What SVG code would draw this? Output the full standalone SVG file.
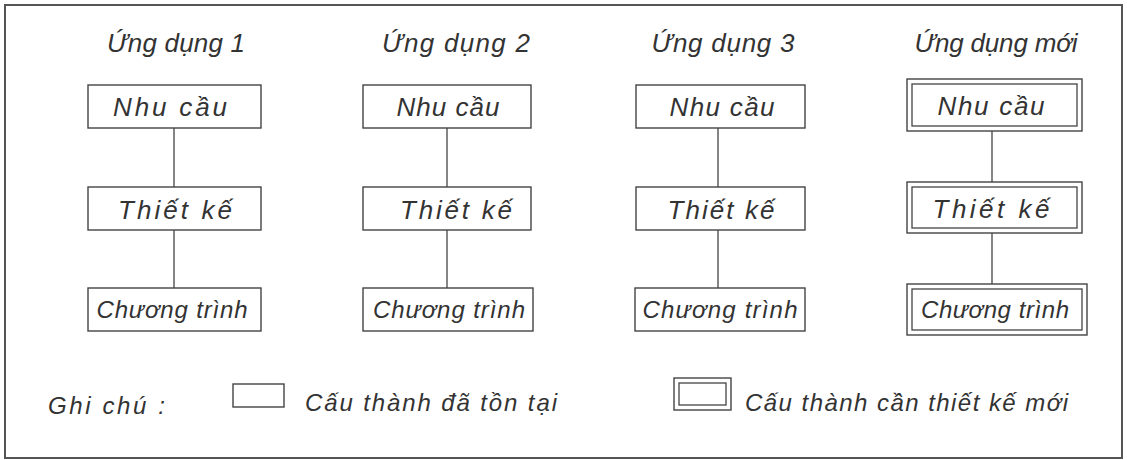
<svg xmlns="http://www.w3.org/2000/svg" width="1127" height="460" viewBox="0 0 1127 460">
<style>
  .frame{fill:none;stroke:#555;stroke-width:2}
  .box{fill:#fff;stroke:#444;stroke-width:1.4}
  .dbl{fill:none;stroke:#444;stroke-width:1.3}
  .conn{stroke:#444;stroke-width:1.3;fill:none}
  text{font-family:"Liberation Sans","DejaVu Sans",sans-serif;font-style:italic;fill:#333;text-anchor:middle}
  .t{font-size:26px}
  .b{font-size:26px}
  .c{font-size:24px}
  .l{font-size:24px;text-anchor:start}
</style>
<rect width="1127" height="460" fill="#fff"/>
<rect class="frame" x="5" y="5" width="1117" height="453"/>

<g id="connectors">
  <line class="conn" x1="174" y1="128" x2="174" y2="187"/>
  <line class="conn" x1="174" y1="230" x2="174" y2="288"/>
  <line class="conn" x1="447" y1="128" x2="447" y2="187"/>
  <line class="conn" x1="447" y1="230" x2="447" y2="288"/>
  <line class="conn" x1="718" y1="128" x2="718" y2="187"/>
  <line class="conn" x1="718" y1="230" x2="718" y2="288"/>
  <line class="conn" x1="992" y1="131" x2="992" y2="182"/>
  <line class="conn" x1="992" y1="233" x2="992" y2="284"/>
</g>

<g id="title1"><text class="t" x="176" y="52" textLength="138" lengthAdjust="spacing">Ứng dụng 1</text></g>
<g id="title2"><text class="t" x="456" y="52" textLength="148" lengthAdjust="spacing">Ứng dụng 2</text></g>
<g id="title3"><text class="t" x="723" y="52" textLength="143" lengthAdjust="spacing">Ứng dụng 3</text></g>
<g id="title4"><text class="t" x="996" y="52" textLength="163" lengthAdjust="spacing">Ứng dụng mới</text></g>

<g id="c1-nhucau"><rect class="box" x="88" y="85" width="173" height="43"/><text class="b" x="170" y="116" textLength="114" lengthAdjust="spacing">Nhu cầu</text></g>
<g id="c1-thietke"><rect class="box" x="88" y="187" width="173" height="43"/><text class="b" x="175" y="219" textLength="114" lengthAdjust="spacing">Thiết kế</text></g>
<g id="c1-chuongtrinh"><rect class="box" x="88" y="288" width="173" height="43"/><text class="c" x="172" y="318" textLength="151" lengthAdjust="spacing">Chương trình</text></g>

<g id="c2-nhucau"><rect class="box" x="363" y="85" width="168" height="43"/><text class="b" x="448" y="116" textLength="103" lengthAdjust="spacing">Nhu cầu</text></g>
<g id="c2-thietke"><rect class="box" x="363" y="187" width="168" height="43"/><text class="b" x="456" y="219" textLength="112" lengthAdjust="spacing">Thiết kế</text></g>
<g id="c2-chuongtrinh"><rect class="box" x="363" y="288" width="170" height="43"/><text class="c" x="449" y="318" textLength="152" lengthAdjust="spacing">Chương trình</text></g>

<g id="c3-nhucau"><rect class="box" x="636" y="85" width="169" height="43"/><text class="b" x="722" y="116" textLength="105" lengthAdjust="spacing">Nhu cầu</text></g>
<g id="c3-thietke"><rect class="box" x="636" y="187" width="169" height="43"/><text class="b" x="721" y="219" textLength="107" lengthAdjust="spacing">Thiết kế</text></g>
<g id="c3-chuongtrinh"><rect class="box" x="635" y="288" width="170" height="43"/><text class="c" x="720" y="318" textLength="155" lengthAdjust="spacing">Chương trình</text></g>

<g id="c4-nhucau"><rect class="box" x="907" y="79" width="175" height="52"/><rect class="dbl" x="912" y="84" width="165" height="42"/><text class="b" x="991" y="115" textLength="107" lengthAdjust="spacing">Nhu cầu</text></g>
<g id="c4-thietke"><rect class="box" x="907" y="182" width="175" height="51"/><rect class="dbl" x="912" y="187" width="165" height="41"/><text class="b" x="991" y="218" textLength="117" lengthAdjust="spacing">Thiết kế</text></g>
<g id="c4-chuongtrinh"><rect class="box" x="907" y="284" width="180" height="51"/><rect class="dbl" x="912" y="289" width="170" height="41"/><text class="c" x="995" y="318" textLength="148" lengthAdjust="spacing">Chương trình</text></g>

<g id="legend">
  <text class="l" x="48" y="414" textLength="117" lengthAdjust="spacing">Ghi chú :</text>
  <rect class="box" x="233" y="384" width="51" height="23"/>
  <text class="l" x="305" y="411" textLength="252" lengthAdjust="spacing">Cấu thành đã tồn tại</text>
  <rect class="box" x="674" y="378" width="57" height="32"/>
  <rect class="dbl" x="679" y="383" width="47" height="22"/>
  <text class="l" x="745" y="411" textLength="323" lengthAdjust="spacing">Cấu thành cần thiết kế mới</text>
</g>
</svg>
